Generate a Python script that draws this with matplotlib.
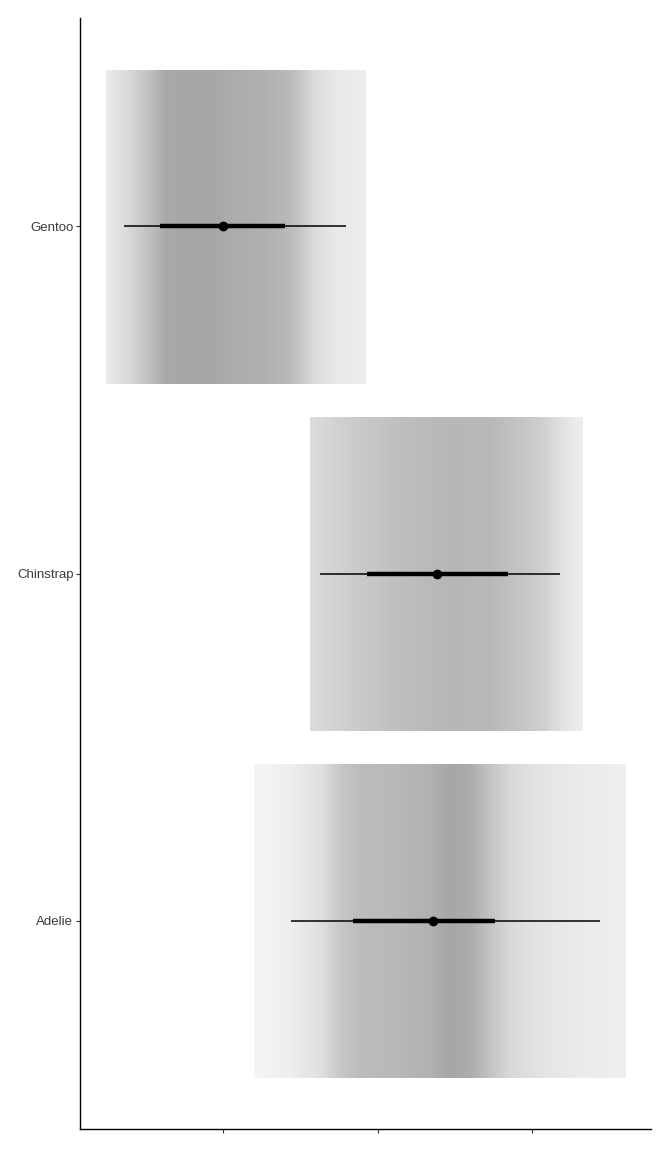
import numpy as np
import matplotlib
matplotlib.use("Agg")
import matplotlib.pyplot as plt
from matplotlib.image import NonUniformImage
from matplotlib.patches import Rectangle

plt.rcParams['font.family'] = ['Liberation Sans', 'DejaVu Sans']

species = ["Adelie", "Chinstrap", "Gentoo"]

# density profiles (bill depth mm -> relative density) read from gradients
adelie_x = [15.5, 16.08, 16.56, 16.89, 17.21, 17.85, 18.34, 18.66, 18.98, 19.31, 19.63, 20.11, 20.76, 21.5]
adelie_d = [0.11, 0.19, 0.34, 0.62, 0.75, 0.79, 0.87, 0.98, 0.93, 0.67, 0.42, 0.30, 0.22, 0.17]
chin_x = [16.4, 17.05, 17.85, 18.66, 19.31, 19.87, 20.19, 20.52, 20.8]
chin_d = [0.39, 0.56, 0.71, 0.80, 0.78, 0.64, 0.51, 0.30, 0.17]
gentoo_x = [13.1, 13.5, 13.82, 14.06, 14.39, 14.79, 15.11, 15.6, 16.0, 16.24, 16.48, 16.8, 17.3]
gentoo_d = [0.21, 0.45, 0.73, 0.96, 1.0, 1.0, 0.93, 0.88, 0.79, 0.62, 0.39, 0.25, 0.19]

# point and intervals: median, 66% interval, 95% interval
medians = [18.4, 18.45, 15.0]
lo66 = [17.1, 17.32, 13.98]
hi66 = [19.4, 19.6, 16.0]
lo95 = [16.1, 16.56, 13.4]
hi95 = [21.1, 20.44, 16.98]

profiles = [(adelie_x, adelie_d), (chin_x, chin_d), (gentoo_x, gentoo_d)]

fig = plt.figure(figsize=(6.72, 11.52), dpi=100)
ax = fig.add_axes([80/672, 1 - 1129/1152, (651-80)/672, (1129-18)/1152])

base = 166/255.0
gmax = max(max(d) for _, d in profiles)
for i, (xs, ds) in enumerate(profiles):
    pos = i + 1
    xs = np.asarray(xs, float)
    a = np.clip(np.asarray(ds, float) / gmax, 0, 1)
    rgba = np.ones((2, len(xs), 4))
    # pre-composite on white
    g = 1 - a * (1 - base)
    rgba[..., 0] = g[None, :]
    rgba[..., 1] = g[None, :]
    rgba[..., 2] = g[None, :]
    im = NonUniformImage(ax, interpolation='bilinear')
    im.set_data(xs, np.array([pos-0.45, pos+0.45]), rgba)
    rect = Rectangle((xs[0], pos-0.45), xs[-1]-xs[0], 0.9, transform=ax.transData,
                     facecolor='none', edgecolor='none')
    ax.add_patch(rect)
    im.set_clip_path(rect)
    ax.add_image(im)

for i in range(3):
    pos = i + 1
    ax.plot([lo95[i], hi95[i]], [pos, pos], color='black', lw=1.1, solid_capstyle='butt', zorder=3)
    ax.plot([lo66[i], hi66[i]], [pos, pos], color='black', lw=3.2, solid_capstyle='butt', zorder=4)
    ax.plot([medians[i]], [pos], 'o', color='black', ms=6, zorder=5)

ax.set_xlim(12.68, 21.92)
ax.set_ylim(0.4, 3.6)
ax.set_yticks([1, 2, 3])
ax.set_yticklabels(species)
ax.set_xticks([15, 17.5, 20])
ax.set_xticklabels([])
for s in ['top', 'right']:
    ax.spines[s].set_visible(False)
for s in ['left', 'bottom']:
    ax.spines[s].set_linewidth(1.0)
    ax.spines[s].set_color('black')
ax.tick_params(axis='both', length=2.75, width=0.8, color='#333333', labelsize=9.5, labelcolor='#3a3a3a', pad=2)

fig.savefig("out.png", dpi=100)
